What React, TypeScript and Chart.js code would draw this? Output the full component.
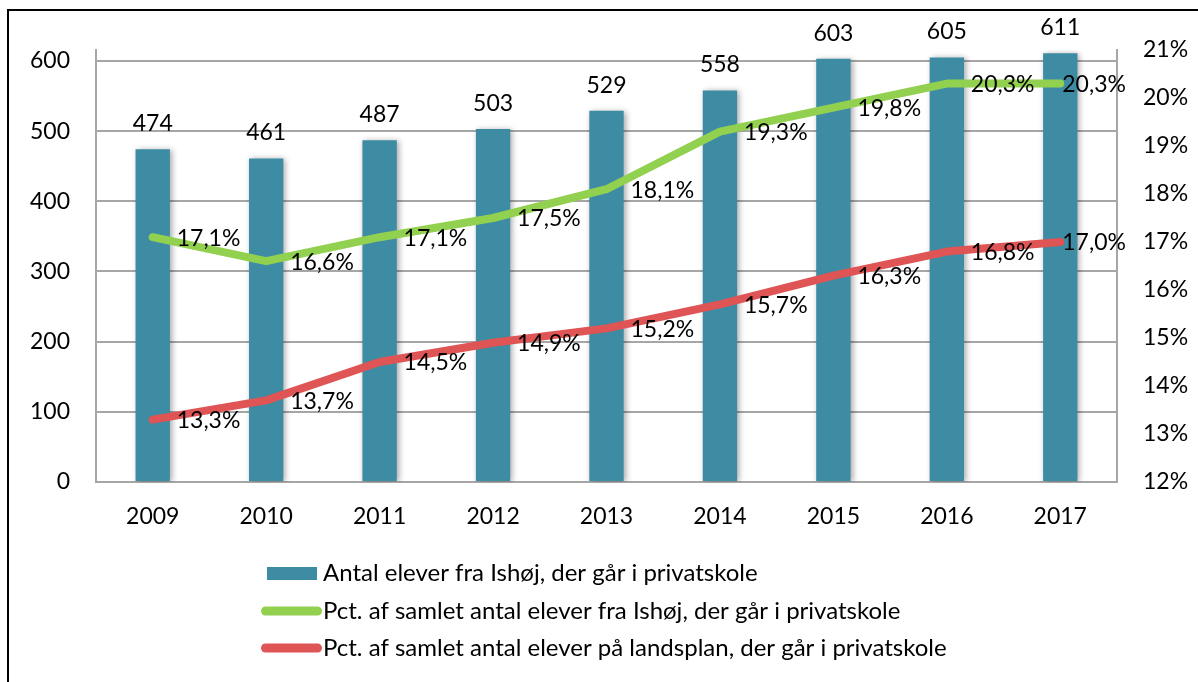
import React, { useEffect, useRef } from "react";
import { Chart, registerables } from "chart.js";

Chart.register(...registerables);

const years = ["2009", "2010", "2011", "2012", "2013", "2014", "2015", "2016", "2017"];
const pupilsIshoj = [474, 461, 487, 503, 529, 558, 603, 605, 611];
const pctIshoj = [17.1, 16.6, 17.1, 17.5, 18.1, 19.3, 19.8, 20.3, 20.3];
const pctNational = [13.3, 13.7, 14.5, 14.9, 15.2, 15.7, 16.3, 16.8, 17.0];
const leftTicks = [0, 100, 200, 300, 400, 500, 600];
const rightTicks = [12, 13, 14, 15, 16, 17, 18, 19, 20, 21];

const seriesNames = [
  "Antal elever fra Ishøj, der går i privatskole",
  "Pct. af samlet antal elever fra Ishøj, der går i privatskole",
  "Pct. af samlet antal elever på landsplan, der går i privatskole",
];

const BAR = "#3E8BA4";
const GREEN = "#92D050";
const RED = "#DF5454";
const FONT = "Lato, 'Open Sans', sans-serif";

const fmtPct = (v: number) => v.toFixed(1).replace(".", ",") + "%";

const customPlugin = {
  id: "custom",
  beforeDatasetDraw(chart: any, args: any) {
    if (args.index === 0) {
      const ctx = chart.ctx;
      ctx.save();
      ctx.shadowColor = "rgba(0,0,0,0.35)";
      ctx.shadowBlur = 6;
      ctx.shadowOffsetX = 2;
      ctx.shadowOffsetY = 1;
    }
  },
  afterDatasetDraw(chart: any, args: any) {
    if (args.index === 0) chart.ctx.restore();
  },
  afterDatasetsDraw(chart: any) {
    const ctx = chart.ctx;
    ctx.save();
    ctx.fillStyle = "#000";
    // bar labels
    ctx.font = `23px ${FONT}`;
    ctx.textAlign = "center";
    ctx.textBaseline = "alphabetic";
    const barMeta = chart.getDatasetMeta(0);
    barMeta.data.forEach((el: any, i: number) => {
      ctx.fillText(String(pupilsIshoj[i]), el.x, el.y - 18);
    });
    // line labels
    ctx.textAlign = "left";
    ctx.textBaseline = "middle";
    [1, 2].forEach((di) => {
      const meta = chart.getDatasetMeta(di);
      const vals = di === 1 ? pctIshoj : pctNational;
      meta.data.forEach((el: any, i: number) => {
        const off = i === vals.length - 1 ? 2 : 24;
        ctx.fillText(fmtPct(vals[i]), el.x + off, el.y + 1);
      });
    });
    ctx.restore();
  },
  afterDraw(chart: any) {
    const ctx = chart.ctx;
    ctx.save();
    // frame
    ctx.strokeStyle = "#000";
    ctx.lineWidth = 2;
    ctx.beginPath();
    ctx.moveTo(8, 700);
    ctx.lineTo(8, 10);
    ctx.lineTo(1210, 10);
    ctx.stroke();
    // legend
    ctx.font = `24px ${FONT}`;
    ctx.textAlign = "left";
    ctx.textBaseline = "middle";
    const rows = [573.5, 611, 648];
    ctx.fillStyle = BAR;
    ctx.fillRect(267, 567, 50, 13);
    ctx.lineCap = "round";
    ctx.lineWidth = 9;
    ctx.strokeStyle = GREEN;
    ctx.beginPath();
    ctx.moveTo(265.5, rows[1]);
    ctx.lineTo(317.5, rows[1]);
    ctx.stroke();
    ctx.strokeStyle = RED;
    ctx.beginPath();
    ctx.moveTo(265.5, rows[2]);
    ctx.lineTo(317.5, rows[2]);
    ctx.stroke();
    ctx.fillStyle = "#000";
    seriesNames.forEach((n, i) => ctx.fillText(n, 323, rows[i]));
    ctx.restore();
  },
};

export default function App() {
  const ref = useRef<HTMLCanvasElement | null>(null);
  useEffect(() => {
    document.body.style.margin = "0";
    const canvas = ref.current!;
    const gridColor = "#A6A6A6";
    const chart = new Chart(canvas, {
      type: "bar",
      data: {
        labels: years,
        datasets: [
          {
            type: "bar",
            label: seriesNames[0],
            data: pupilsIshoj,
            backgroundColor: BAR,
            yAxisID: "y",
            order: 3,
            barPercentage: 0.303,
            categoryPercentage: 1,
          },
          {
            type: "line",
            label: seriesNames[1],
            data: pctIshoj,
            borderColor: GREEN,
            backgroundColor: GREEN,
            borderWidth: 8,
            borderCapStyle: "round",
            borderJoinStyle: "round",
            pointRadius: 0,
            tension: 0,
            yAxisID: "y1",
            order: 1,
          },
          {
            type: "line",
            label: seriesNames[2],
            data: pctNational,
            borderColor: RED,
            backgroundColor: RED,
            borderWidth: 8,
            borderCapStyle: "round",
            borderJoinStyle: "round",
            pointRadius: 0,
            tension: 0,
            yAxisID: "y1",
            order: 2,
          },
        ],
      },
      options: {
        responsive: false,
        animation: false,
        layout: { padding: { top: 50, left: 0, right: 0, bottom: 0 } },
        plugins: {
          legend: { display: false },
          tooltip: { enabled: false },
          title: { display: false },
        },
        scales: {
          x: {
            grid: { display: false, drawTicks: false },
            border: { display: true, color: gridColor, width: 2 },
            ticks: { color: "#000", font: { family: FONT, size: 23 }, padding: 21 },
            afterFit: (s: any) => {
              s.height = 200;
            },
          },
          y: {
            position: "left",
            min: 0,
            max: 615.6,
            grid: { color: gridColor, lineWidth: 2, drawTicks: false },
            border: { display: true, color: gridColor, width: 2 },
            ticks: { color: "#000", font: { family: FONT, size: 23 }, padding: 26, stepSize: 100 },
            afterBuildTicks: (s: any) => {
              s.ticks = leftTicks.map((v) => ({ value: v }));
            },
            afterFit: (s: any) => {
              s.width = 96;
            },
          },
          y1: {
            position: "right",
            min: 12,
            max: 21,
            grid: { display: false, drawTicks: false },
            border: { display: true, color: gridColor, width: 2 },
            ticks: {
              color: "#000",
              font: { family: FONT, size: 23 },
              padding: 26,
              stepSize: 1,
              callback: (v: any) => `${v}%`,
            },
            afterBuildTicks: (s: any) => {
              s.ticks = rightTicks.map((v) => ({ value: v }));
            },
            afterFit: (s: any) => {
              s.width = 81;
            },
          },
        },
      },
      plugins: [customPlugin],
    } as any);
    return () => chart.destroy();
  }, []);
  return (
    <div style={{ position: "fixed", left: 0, top: 0, width: 1198, height: 682, background: "#fff" }}>
      <canvas ref={ref} width={1198} height={682} style={{ display: "block" }} />
    </div>
  );
}
